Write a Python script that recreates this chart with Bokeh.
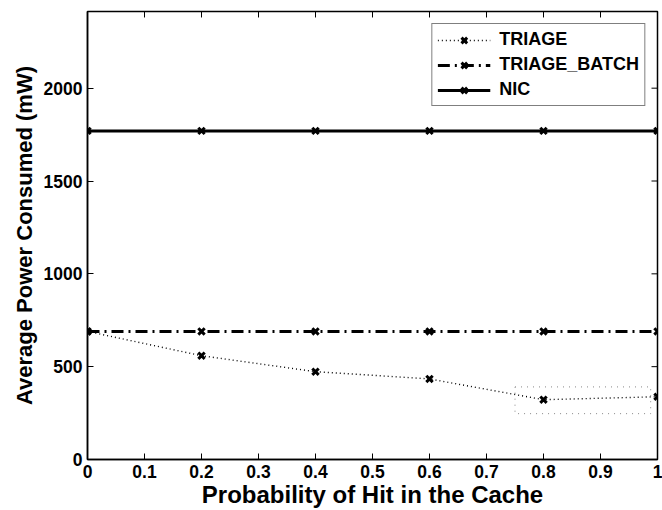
from bokeh.plotting import figure
from bokeh.models import (Range1d, FixedTicker, Legend, LegendItem,
                          ColumnDataSource)
from bokeh.embed import file_html
from bokeh.resources import INLINE

# ---- data ----
hit_prob = [0.0, 0.2, 0.4, 0.6, 0.8, 1.0]
triage = [690, 559, 473, 434, 322, 338]
triage_batch = [690, 690, 690, 690, 690, 690]
nic = [1770, 1770, 1770, 1770, 1770, 1770]
x_ticks = [0.0, 0.1, 0.2, 0.3, 0.4, 0.5, 0.6, 0.7, 0.8, 0.9, 1.0]
x_tick_labels = ["0", "0.1", "0.2", "0.3", "0.4", "0.5", "0.6", "0.7", "0.8", "0.9", "1"]
y_ticks = [0, 500, 1000, 1500, 2000]
# stray dotted box in original figure (x0, x1, y0, y1)
box_x = [0.75, 0.988]
box_y = [247, 391]

FONT = "Liberation Sans"
X0, X1, Y0, Y1 = 0.0, 1.0, 0.0, 2413.0
FRAME_W, FRAME_H = 570, 450
TICK = 6

p = figure(width=662, height=510, output_backend="svg", toolbar_location=None,
           x_range=Range1d(X0, X1), y_range=Range1d(Y0, Y1),
           min_border_left=87, min_border_right=5, min_border_top=11, min_border_bottom=49)
p.background_fill_color = "white"
p.border_fill_color = "white"
p.outline_line_color = "black"
p.outline_line_width = 1.5
p.xgrid.visible = False
p.ygrid.visible = False

def style_axis(ax):
    ax.axis_line_color = "black"
    ax.axis_line_width = 1.5
    ax.major_tick_in = TICK
    ax.major_tick_out = 0
    ax.major_tick_line_color = "black"
    ax.major_tick_line_width = 1
    ax.minor_tick_line_color = None
    ax.major_label_text_font = FONT
    ax.major_label_text_font_style = "bold"
    ax.major_label_text_font_size = "17.5px"
    ax.major_label_text_color = "black"

xa = p.xaxis[0]
ya = p.yaxis[0]
xa.ticker = FixedTicker(ticks=x_ticks)
xa.major_label_overrides = {t: l for t, l in zip(x_ticks, x_tick_labels)}
ya.ticker = FixedTicker(ticks=y_ticks)
style_axis(xa)
style_axis(ya)
xa.major_label_standoff = 5
ya.major_label_standoff = 5
xa.axis_label = "Probability of Hit in the Cache"
ya.axis_label = "Average Power Consumed (mW)"
for ax in (xa, ya):
    ax.axis_label_text_font = FONT
    ax.axis_label_text_font_style = "bold"
    ax.axis_label_text_color = "black"
xa.axis_label_text_font_size = "24px"
ya.axis_label_text_font_size = "22px"
xa.axis_label_standoff = 0
ya.axis_label_standoff = 4

# inward ticks on the top and right frame edges, derived from the tick lists
dx = TICK * (X1 - X0) / FRAME_W
dy = TICK * (Y1 - Y0) / FRAME_H
p.segment(x0=[X1 - dx] * len(y_ticks), x1=[X1] * len(y_ticks), y0=y_ticks, y1=y_ticks,
          line_color="black", line_width=1)
p.segment(x0=x_ticks, x1=x_ticks, y0=[Y1 - dy] * len(x_ticks), y1=[Y1] * len(x_ticks),
          line_color="black", line_width=1)

# stray dotted box
p.quad(left=[box_x[0]], right=[box_x[1]], bottom=[box_y[0]], top=[box_y[1]],
       fill_color=None, line_color="#888888", line_dash="1 5", line_width=1)

src = ColumnDataSource(dict(x=hit_prob, t=triage, tb=triage_batch, n=nic))

l1 = p.line("x", "t", source=src, line_color="black", line_width=1.4, line_dash="1 3")
m1 = p.scatter("x", "t", source=src, marker="x", size=9, line_width=3, line_color="black")
l2 = p.line("x", "tb", source=src, line_color="black", line_width=3, line_dash="12 5 2 5")
m2 = p.scatter("x", "tb", source=src, marker="x", size=9, line_width=3, line_color="black")
l3 = p.line("x", "n", source=src, line_color="black", line_width=3)
m3 = p.scatter("x", "n", source=src, marker="x", size=9, line_width=3, line_color="black")

legend = Legend(items=[
    LegendItem(label="TRIAGE", renderers=[l1, m1]),
    LegendItem(label="TRIAGE_BATCH", renderers=[l2, m2]),
    LegendItem(label="NIC", renderers=[l3, m3]),
], location="top_right")
legend.label_text_font = FONT
legend.label_text_font_style = "bold"
legend.label_text_font_size = "18px"
legend.label_text_color = "black"
legend.border_line_color = "black"
legend.border_line_width = 1.5
legend.background_fill_alpha = 1
legend.glyph_width = 53
legend.glyph_height = 20
legend.spacing = 4
legend.padding = 5
legend.margin = 12
legend.label_standoff = 9
legend.label_height = 20
p.add_layout(legend)

open("out.html", "w").write(file_html(p, INLINE))
